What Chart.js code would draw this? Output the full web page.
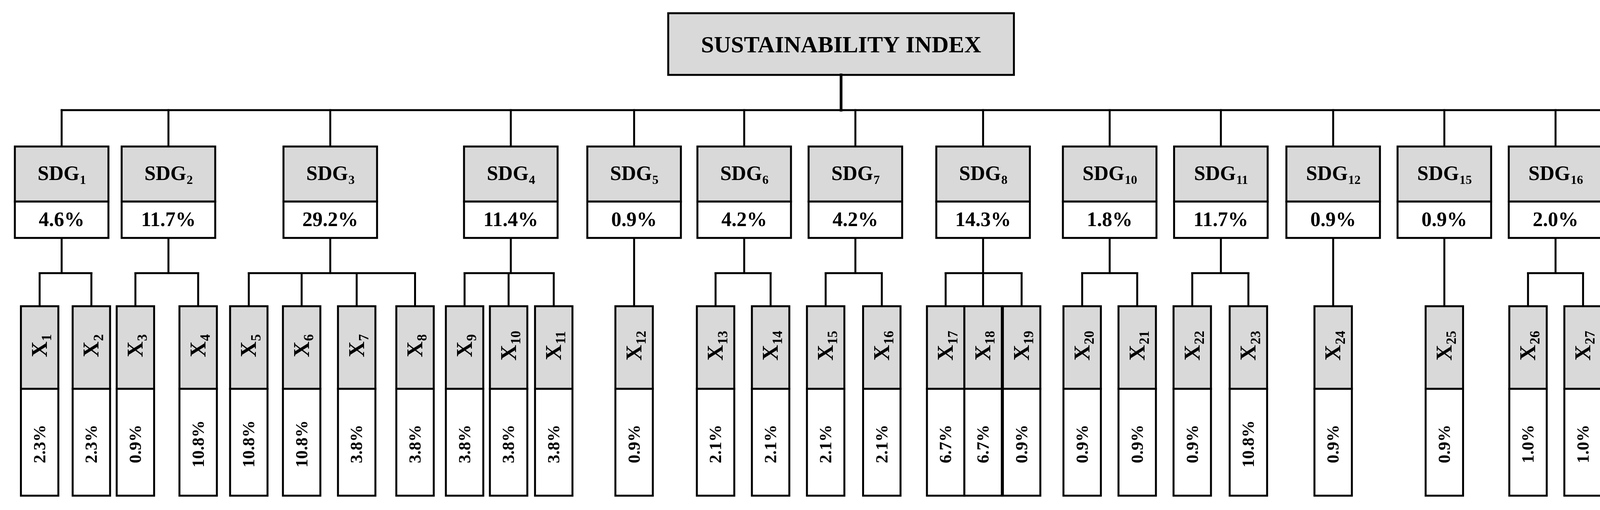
<!DOCTYPE html>
<html><head><meta charset="utf-8">
<script src="https://cdn.jsdelivr.net/npm/chart.js@4.4.0/dist/chart.umd.min.js"></script>
<style>html,body{margin:0;padding:0;background:#fff;overflow:hidden}canvas{display:block}</style>
</head><body><canvas id="c" width="4419" height="1306" style="width:4419px;height:1306px"></canvas>
<script>
const title = 'SUSTAINABILITY INDEX';
const sdgLabels = ['1','2','3','4','5','6','7','8','10','11','12','15','16','17'];
const sdgWeights = [4.6,11.7,29.2,11.4,0.9,4.2,4.2,14.3,1.8,11.7,0.9,0.9,2.0,2.1];
const indLabels = ['1','2','3','4','5','6','7','8','9','10','11','12','13','14','15','16','17','18','19','20','21','22','23','24','25','26','27','28'];
const indWeights = [2.3,2.3,0.9,10.8,10.8,10.8,3.8,3.8,3.8,3.8,3.8,0.9,2.1,2.1,2.1,2.1,6.7,6.7,0.9,0.9,0.9,0.9,10.8,0.9,0.9,1.0,1.0,2.1];
const indParent = [0,0,1,1,2,2,2,2,3,3,3,4,5,5,6,6,7,7,7,8,8,9,9,10,11,12,12,13];
// layout (diagram units, 1568 x 463)
const rootX = 764;
const sdgX = [56,153,300,464,576,676,777,893,1008,1109,1211,1312,1413,1515];
const indX = [36,83,123,180,226,274,324,377,422,462,503,576,650,700,750,801,859,893,928,983,1033,1083,1134,1211,1312,1388,1438,1515];

const F = '"Liberation Serif","DejaVu Serif",serif';
function sub(ctx, base, s, cx, cy, size){
  ctx.font = 'bold '+size+'px '+F;
  const w1 = ctx.measureText(base).width;
  ctx.font = 'bold '+Math.round(size*0.62)+'px '+F;
  const w2 = ctx.measureText(s).width;
  const x0 = cx-(w1+w2)/2;
  ctx.textAlign='left'; ctx.textBaseline='alphabetic';
  ctx.font = 'bold '+size+'px '+F;
  ctx.fillText(base, x0, cy+size*0.33);
  ctx.font = 'bold '+Math.round(size*0.62)+'px '+F;
  ctx.fillText(s, x0+w1+1, cy+size*0.33+size*0.2);
}
const treePlugin = {
  id:'tree',
  afterDatasetsDraw(chart){
    const ctx = chart.ctx, xs = chart.scales.x, ys = chart.scales.y;
    const px = v=>xs.getPixelForValue(v), py = v=>ys.getPixelForValue(v);
    ctx.save();
    ctx.strokeStyle='#000'; ctx.fillStyle='#000'; ctx.lineWidth=5; ctx.lineCap='square';
    const line=(x1,y1,x2,y2)=>{ctx.beginPath();ctx.moveTo(px(x1),py(y1));ctx.lineTo(px(x2),py(y2));ctx.stroke();};
    const box=(x1,y1,x2,y2,fill)=>{ctx.fillStyle=fill;ctx.fillRect(px(x1),py(y1),px(x2)-px(x1),py(y2)-py(y1));ctx.strokeRect(px(x1),py(y1),px(x2)-px(x1),py(y2)-py(y1));ctx.fillStyle='#000';};
    box(607,12,921,68,'#d9d9d9');
    ctx.font='bold 60px '+F; ctx.textAlign='center'; ctx.textBaseline='middle';
    ctx.fillText(title, px(764), py(41)+3);
    ctx.lineWidth=7; line(rootX,68,rootX,100); ctx.lineWidth=5;
    line(sdgX[0],100,sdgX[sdgX.length-1],100);
    const bw=42.5;
    sdgX.forEach((x,i)=>{
      line(x,100,x,133);
      const kids = indX.filter((_,j)=>indParent[j]===i);
      if(kids.length===1){ line(x,216,kids[0],278); }
      else {
        line(x,216,x,248);
        line(Math.min(...kids),248,Math.max(...kids),248);
        kids.forEach(k=>line(k,248,k,278));
      }
      box(x-bw,133,x+bw,183,'#d9d9d9');
      box(x-bw,183,x+bw,216,'#fff');
      sub(ctx,'SDG',sdgLabels[i],px(x),py(158)-2,52);
      ctx.font='bold 52px '+F; ctx.textAlign='center'; ctx.textBaseline='middle';
      ctx.fillText(sdgWeights[i].toFixed(1)+'%', px(x), py(199.5)+3);
    });
    const iw=17;
    indX.forEach((x,j)=>{
      box(x-iw,278,x+iw,353,'#d9d9d9');
      box(x-iw,353,x+iw,450,'#fff');
      ctx.save(); ctx.translate(px(x),py(314)); ctx.rotate(-Math.PI/2);
      sub(ctx,'X',indLabels[j],0,0,56);
      ctx.restore();
      ctx.save(); ctx.translate(px(x),py(403)); ctx.rotate(-Math.PI/2);
      ctx.font='bold 44px '+F; ctx.textAlign='center'; ctx.textBaseline='middle';
      ctx.fillText(indWeights[j].toFixed(1)+'%',0,3);
      ctx.restore();
    });
    ctx.restore();
  }
};
new Chart(document.getElementById('c'),{
  type:'scatter',
  data:{datasets:[
    {label:'SDG', data:sdgX.map((x,i)=>({x:x,y:158})), pointRadius:0},
    {label:'Indicators', data:indX.map((x,j)=>({x:x,y:314})), pointRadius:0}
  ]},
  options:{responsive:false,animation:false,devicePixelRatio:1,
    layout:{padding:0},
    plugins:{legend:{display:false},tooltip:{enabled:false}},
    scales:{x:{type:'linear',min:0,max:1568,display:false},y:{min:0,max:463,reverse:true,display:false}}},
  plugins:[treePlugin]
});
</script></body></html>
